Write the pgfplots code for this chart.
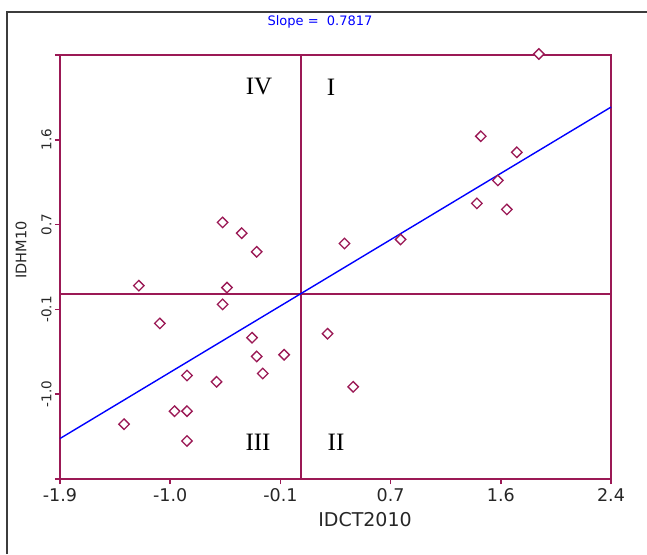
\documentclass[border=0pt]{standalone}
\usepackage{fontspec}
\setmainfont{DejaVu Sans}
\newfontfamily\quadfont{Liberation Serif}
\usepackage{pgfplots}
\pgfplotsset{compat=1.18}
\definecolor{maroon}{RGB}{155,25,85}
\definecolor{frame}{RGB}{60,60,60}
\begin{document}
\begin{tikzpicture}[x=1pt,y=1pt]
\useasboundingbox (0pt,0pt) rectangle (647pt,554pt);
\draw[line width=2pt, frame] (7pt,0pt) -- (7pt,542pt) -- (647pt,542pt);
\begin{axis}[
  at={(60pt,75pt)}, anchor=south west,
  scale only axis, width=551pt, height=424pt,
  xmin=-1.88, xmax=2.42, ymin=-1.88, ymax=2.42,
  clip=false,
  axis line style={maroon, line width=1.8pt},
  xtick={-1.88,-1.02,-0.16,0.70,1.56,2.42},
  xticklabels={-1.9,-1.0,-0.1,0.7,1.6,2.4},
  ytick={-1.88,-1.02,-0.16,0.70,1.56,2.42},
  yticklabels={,-1.0,-0.1,0.7,1.6,},
  xtick pos=bottom, ytick pos=left,
  tick align=outside, major tick length=5pt,
  tick style={maroon, line width=1.5pt},
  x tick label style={font=\fontsize{17.5}{19}\selectfont, text=black!85, yshift=-1pt},
  y tick label style={font=\fontsize{13.5}{15}\selectfont, text=black!85, rotate=90, anchor=south},
]
\addplot[maroon, line width=1.8pt, forget plot] coordinates {(0,-1.88) (0,2.42)};
\addplot[maroon, line width=1.8pt, forget plot] coordinates {(-1.88,0) (2.42,0)};
\addplot[blue, line width=1.4pt] coordinates {(-1.88,-1.4696) (2.42,1.8917)};
\addplot[only marks, mark=square*, mark size=3.7pt,
  mark options={rotate=45, draw=maroon, fill=white, line width=1.3pt}]
  coordinates {
  (1.857,2.43) (1.404,1.596) (1.685,1.433) (1.537,1.148) (1.373,0.915)
  (1.607,0.854) (0.778,0.549) (0.340,0.508)
  (-0.611,0.722) (-0.462,0.613) (-0.345,0.424) (-1.265,0.081) (-0.577,0.061)
  (-0.611,-0.109) (-1.101,-0.302) (-0.381,-0.447) (0.208,-0.406) (-0.345,-0.637)
  (-0.131,-0.620) (-0.298,-0.810) (-0.889,-0.830) (-0.658,-0.894) (-0.986,-1.192)
  (-0.889,-1.192) (-1.380,-1.324) (-0.889,-1.494) (0.408,-0.945)
  };
\end{axis}
\node[font=\fontsize{19}{21}\selectfont, text=black!85] at (365pt,34pt) {IDCT2010};
\node[font=\fontsize{14.5}{16}\selectfont, text=black!85, rotate=90] at (21pt,304pt) {IDHM10};
\node[font=\fontsize{13}{15}\selectfont, text=blue] at (320pt,532pt) {Slope =\ \ 0.7817};
\node[font=\quadfont\fontsize{25}{28}\selectfont] at (259pt,467pt) {IV};
\node[font=\quadfont\fontsize{25}{28}\selectfont] at (331pt,467pt) {I};
\node[font=\quadfont\fontsize{25}{28}\selectfont] at (258pt,112pt) {III};
\node[font=\quadfont\fontsize{25}{28}\selectfont] at (336pt,112pt) {II};
\end{tikzpicture}
\end{document}
